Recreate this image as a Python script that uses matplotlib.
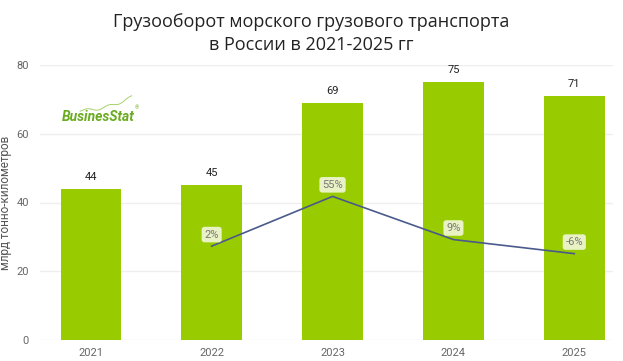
import matplotlib.pyplot as plt
import numpy as np

years = ['2021', '2022', '2023', '2024', '2025']
turnover = [44, 45, 69, 75, 71]
growth_years = ['2022', '2023', '2024', '2025']
growth = [2, 55, 9, -6]

BAR_GREEN = '#99cc00'
LINE_BLUE = '#4a5a8c'
TICK_GRAY = '#666666'

plt.rcParams['font.family'] = ['Roboto', 'DejaVu Sans']

fig = plt.figure(figsize=(6.23, 3.61), dpi=100)
ax = fig.add_axes([40 / 623, 21 / 361, 573 / 623, 275 / 361])

x = np.arange(len(years))
ax.bar(x, turnover, width=0.5, color=BAR_GREEN, zorder=2)
for xi, v in zip(x, turnover):
    ax.text(xi, v + 2, str(v), ha='center', va='bottom', fontsize=8, color='#222222')

ax.set_ylim(0, 80)
ax.set_yticks([0, 20, 40, 60, 80])
ax.set_xlim(-0.42, 4.32)
ax.set_xticks(x)
ax.set_xticklabels(years)
ax.tick_params(axis='both', length=0, colors=TICK_GRAY, labelsize=8)
ax.tick_params(axis='x', pad=6)
ax.tick_params(axis='y', pad=8)
ax.grid(axis='y', color='#eeeeee', linewidth=1, zorder=0)
for s in ax.spines.values():
    s.set_visible(False)
ax.set_ylabel('млрд тонно-километров', color='#555555', fontsize=8.5)
ax.yaxis.set_label_coords(-0.049, 0.5)

# growth line on hidden secondary axis
ax2 = ax.twinx()
ax2.set_ylim(-98, 195)
gx = [years.index(y) for y in growth_years]
ax2.plot(gx, growth, color=LINE_BLUE, linewidth=1.2, zorder=3)
for xi, g in zip(gx, growth):
    ax2.text(xi, g + 7, f'{g}%', ha='center', va='bottom', fontsize=8, color='#777777',
             bbox=dict(boxstyle='round,pad=0.25', fc='#e8f2c4', ec='none'))
ax2.axis('off')

fig.text(0.5, 0.965, 'Грузооборот морского грузового транспорта\nв России в 2021-2025 гг',
         ha='center', va='top', fontsize=13, color='#222222', family=['Open Sans', 'DejaVu Sans'],
         linespacing=1.35)

# logo
ax.text(0.038, 0.81, 'BusinesStat', transform=ax.transAxes, fontsize=10, fontweight='bold',
        fontstyle='italic', color='#6aab1f', ha='left', va='center')
ax.text(0.166, 0.84, '®', transform=ax.transAxes, fontsize=4, color='#6aab1f')
sx = np.linspace(0.07, 0.16, 30)
sy = 0.835 + 0.005 * np.sin(sx * 170) + (sx - 0.07) ** 2 * 6
ax.plot(sx, sy, transform=ax.transAxes, color='#a8d26a', linewidth=0.7)

fig.savefig('out.png', dpi=100)
